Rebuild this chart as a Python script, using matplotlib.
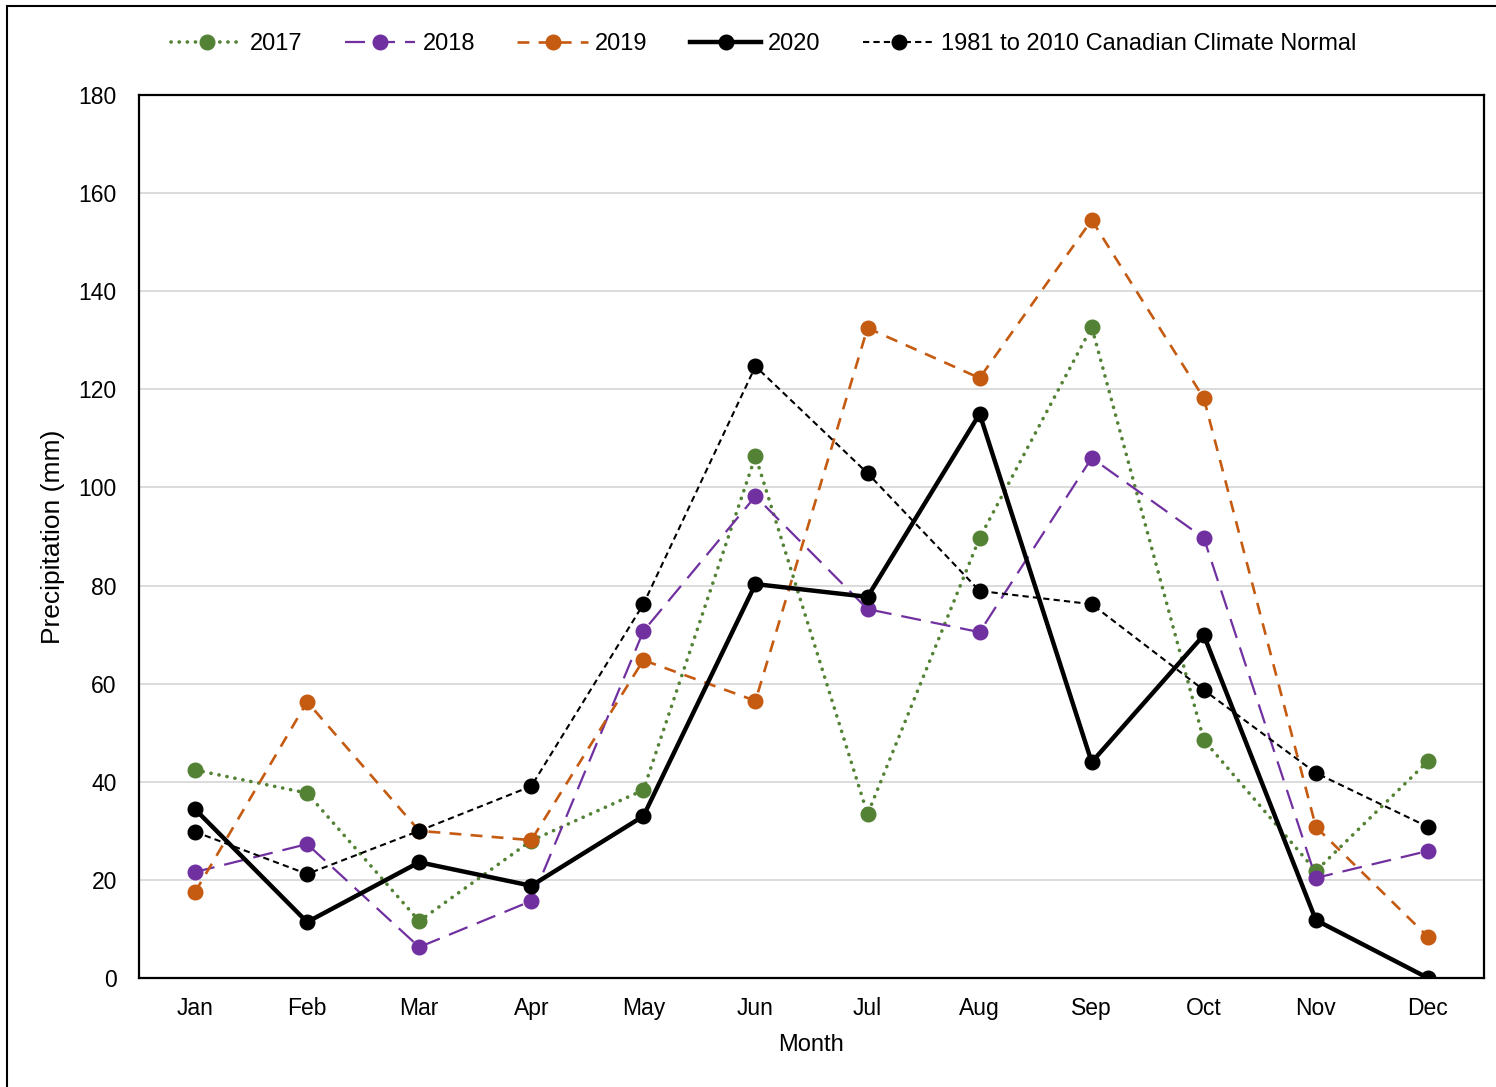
import matplotlib.pyplot as plt
from matplotlib.patches import Rectangle

plt.rcParams['font.family'] = ['Liberation Sans', 'DejaVu Sans']

months = ['Jan', 'Feb', 'Mar', 'Apr', 'May', 'Jun', 'Jul', 'Aug', 'Sep', 'Oct', 'Nov', 'Dec']
p2017 = [42.4, 37.7, 11.6, 28.0, 38.3, 106.4, 33.4, 89.7, 132.7, 48.5, 21.8, 44.2]
p2018 = [21.6, 27.3, 6.3, 15.7, 70.7, 98.2, 75.2, 70.5, 106.0, 89.7, 20.4, 25.9]
p2019 = [17.5, 56.3, 30.0, 28.1, 64.8, 56.5, 132.5, 122.3, 154.5, 118.2, 30.8, 8.4]
p2020 = [34.4, 11.4, 23.6, 18.8, 33.0, 80.3, 77.7, 115.0, 44.0, 69.9, 11.8, 0.0]
normal = [29.8, 21.2, 30.0, 39.1, 76.2, 124.7, 102.9, 78.9, 76.2, 58.7, 41.8, 30.8]

W, H = 1496, 1087
fig = plt.figure(figsize=(W / 100, H / 100), dpi=100)
ax = fig.add_axes([139 / W, 1 - 978 / H, (1484 - 139) / W, (978 - 95) / H])

# outer chart frame
fig.patches.append(Rectangle((7 / W, -0.1), 1.2, 1 - 6 / H + 0.1, transform=fig.transFigure,
                             fill=False, edgecolor='black', lw=1.5, zorder=0))

x = range(len(months))
ms = 10.5
ax.plot(x, p2017, color='#548235', lw=2.6, dashes=(0.05, 2.2), dash_capstyle='round',
        marker='o', ms=ms, label='2017', zorder=3)
ax.plot(x, p2018, color='#7030A0', lw=1.6, dashes=(9, 4.5),
        marker='o', ms=ms, label='2018', zorder=4)
ax.plot(x, p2019, color='#C55A11', lw=1.9, dashes=(4.5, 3.5),
        marker='o', ms=ms, label='2019', zorder=5)
ax.plot(x, p2020, color='black', lw=3.2, marker='o', ms=ms, label='2020', zorder=6)
ax.plot(x, normal, color='black', lw=1.5, dashes=(3, 2),
        marker='o', ms=ms, label='1981 to 2010 Canadian Climate Normal', zorder=7)

ax.set_xlim(-0.5, 11.5)
ax.set_ylim(0, 180)
ax.set_yticks(range(0, 181, 20))
ax.set_xticks(list(x))
ax.set_xticklabels(months)
ax.tick_params(length=0, labelsize=16.5, pad=14)
ax.tick_params(axis='y', pad=16)
ax.grid(axis='y', color='#d9d9d9', lw=1.3)
ax.set_axisbelow(True)
for s in ax.spines.values():
    s.set_linewidth(1.6)

ax.set_xlabel('Month', fontsize=17, labelpad=10)
ax.set_ylabel('Precipitation (mm)', fontsize=19, labelpad=10)

fig.legend(loc='center', bbox_to_anchor=(764 / W, 1 - 44 / H), ncol=5, frameon=False,
           fontsize=17, handlelength=3.0, handletextpad=0.3, columnspacing=1.8)

fig.savefig('out.png', dpi=100)
